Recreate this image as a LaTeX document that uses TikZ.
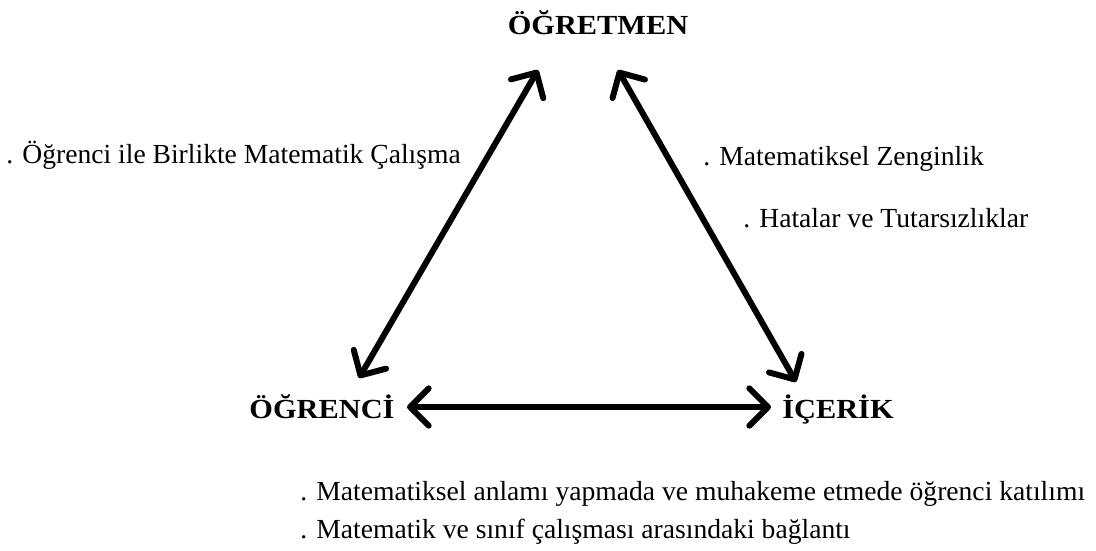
\documentclass[tikz,border=0pt]{standalone}
\usepackage{fontspec}
\setmainfont{Liberation Serif}
\usetikzlibrary{arrows.meta}
\newcommand{\widecaps}[1]{\scalebox{1.1}[1]{#1}}
\begin{document}
\begin{tikzpicture}[x=0.75pt,y=-0.75pt,
  vertex/.style={inner sep=0pt,anchor=base,font=\fontsize{20.7}{24}\selectfont\bfseries},
  note/.style={inner sep=0pt,anchor=base west,font=\fontsize{20.7}{24}\selectfont},
  barb/.tip={Straight Barb[length=14pt,width=28pt,line cap=round,line join=round]},
  link/.style={line width=4.5pt,line cap=round,barb-barb}]
  \useasboundingbox (0,0) rectangle (1096,550);
  % the three corners of the triangle
  \node[vertex] (ogretmen) at (598,34) {\widecaps{ÖĞRETMEN}};
  \node[vertex] (ogrenci) at (322,418) {\widecaps{ÖĞRENCİ}};
  \node[vertex] (icerik) at (838,418) {\widecaps{İÇERİK}};
  % arrow ends
  \coordinate (tl) at (538,70);
  \coordinate (tr) at (618,70);
  \coordinate (bl) at (359,378);
  \coordinate (br) at (796,382);
  \coordinate (hl) at (407,407);
  \coordinate (hr) at (771,407);
  \draw[link] (tl) -- (bl);
  \draw[link] (tr) -- (br);
  \draw[link] (hl) -- (hr);
  % notes
  \node[note] (n1) at (6,163) {. Öğrenci ile Birlikte Matematik Çalışma};
  \node[note] (n2) at (703,165) {. Matematiksel Zenginlik};
  \node[note] (n3) at (743,227) {. Hatalar ve Tutarsızlıklar};
  \node[note] (n4) at (300,500) {. Matematiksel anlamı yapmada ve muhakeme etmede öğrenci katılımı};
  \node[note] (n5) at (300,538) {. Matematik ve sınıf çalışması arasındaki bağlantı};
\end{tikzpicture}
\end{document}
